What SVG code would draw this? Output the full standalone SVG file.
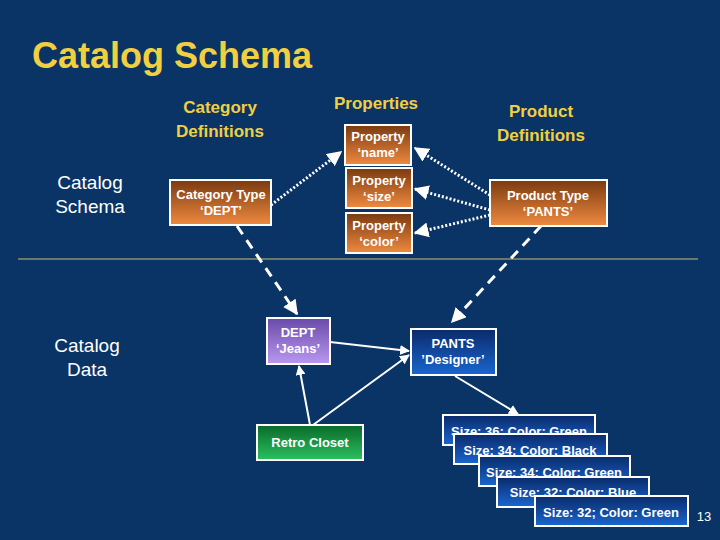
<svg xmlns="http://www.w3.org/2000/svg" width="720" height="540" viewBox="0 0 720 540">
<defs>
<linearGradient id="og" x1="0" y1="0" x2="0" y2="1"><stop offset="0" stop-color="#7a3a10"/><stop offset="1" stop-color="#f08a40"/></linearGradient>
<linearGradient id="pg" x1="0" y1="0" x2="0" y2="1"><stop offset="0" stop-color="#6a4aa8"/><stop offset="1" stop-color="#b898f0"/></linearGradient>
<linearGradient id="bg" x1="0" y1="0" x2="0" y2="1"><stop offset="0" stop-color="#0a2a6a"/><stop offset="1" stop-color="#1a66d0"/></linearGradient>
<linearGradient id="gg" x1="0" y1="0" x2="0" y2="1"><stop offset="0" stop-color="#0a6a2a"/><stop offset="1" stop-color="#2ac060"/></linearGradient>
<marker id="ah" viewBox="0 0 10 10" refX="9" refY="5" markerWidth="5" markerHeight="5" orient="auto"><path d="M0,0L10,5L0,10z" fill="#fff"/></marker>
<style>
.t{font-family:"Liberation Sans",Arial,sans-serif;font-weight:bold;fill:#fff;font-size:13px;text-anchor:middle}
.h{font-family:"Liberation Sans",Arial,sans-serif;font-weight:bold;fill:#f0d040;font-size:17px;text-anchor:middle}
.s{font-family:"Liberation Sans",Arial,sans-serif;fill:#fff;font-size:19px;text-anchor:middle}
.b{stroke:#fff;stroke-width:2}
.dot{stroke:#fff;stroke-width:3;stroke-dasharray:2 2;fill:none}
.dash{stroke:#fff;stroke-width:3;stroke-dasharray:10 7;fill:none}
.sol{stroke:#fff;stroke-width:2;fill:none}
</style>
</defs>
<rect width="720" height="540" fill="#0a3366"/>
<text x="32" y="68" font-family="Liberation Sans,Arial,sans-serif" font-weight="bold" font-size="36" fill="#f0d040">Catalog Schema</text>
<text class="h" x="220" y="113">Category</text><text class="h" x="220" y="137">Definitions</text>
<text class="h" x="376" y="109">Properties</text>
<text class="h" x="541" y="117">Product</text><text class="h" x="541" y="141">Definitions</text>
<text class="s" x="90" y="189">Catalog</text><text class="s" x="90" y="213">Schema</text>
<text class="s" x="87" y="352">Catalog</text><text class="s" x="87" y="376">Data</text>
<line x1="18" y1="259" x2="698" y2="259" stroke="#c8c070" stroke-width="1"/>
<g id="connectors">
<path class="dot" d="M271,205L341,152" marker-end="url(#ah)"/>
<path class="dot" d="M490,195L415,148" marker-end="url(#ah)"/>
<path class="dot" d="M490,210L415,189" marker-end="url(#ah)"/>
<path class="dot" d="M490,215L415,233" marker-end="url(#ah)"/>
<path class="dash" d="M237,226L297,314" marker-end="url(#ah)"/>
<path class="dash" d="M541,226L452,322" marker-end="url(#ah)"/>
<path class="sol" d="M330,342L409,351" marker-end="url(#ah)"/>
<path class="sol" d="M310,425L299,366" marker-end="url(#ah)"/>
<path class="sol" d="M313,425L409,355" marker-end="url(#ah)"/>
<path class="sol" d="M455,376L518,414" marker-end="url(#ah)"/>
</g>
<g id="p-name"><rect class="b" x="345" y="125" width="66" height="40" fill="url(#og)"/><text class="t" x="378" y="141">Property</text><text class="t" x="378" y="157">‘name’</text></g>
<g id="p-size"><rect class="b" x="346" y="168" width="66" height="40" fill="url(#og)"/><text class="t" x="379" y="185">Property</text><text class="t" x="379" y="201">‘size’</text></g>
<g id="p-color"><rect class="b" x="346" y="213" width="66" height="40" fill="url(#og)"/><text class="t" x="379" y="230">Property</text><text class="t" x="379" y="246">‘color’</text></g>
<g id="cat-type"><rect class="b" x="170" y="180" width="101" height="45" fill="url(#og)"/><text class="t" x="221" y="199">Category Type</text><text class="t" x="221" y="215">‘DEPT’</text></g>
<g id="prod-type"><rect class="b" x="490" y="180" width="117" height="46" fill="url(#og)"/><text class="t" x="548" y="200">Product Type</text><text class="t" x="548" y="216">‘PANTS’</text></g>
<g id="dept-jeans"><rect class="b" x="267" y="318" width="63" height="46" fill="url(#pg)"/><text class="t" x="298" y="337">DEPT</text><text class="t" x="298" y="353">‘Jeans’</text></g>
<g id="pants-designer"><rect class="b" x="411" y="329" width="85" height="46" fill="url(#bg)"/><text class="t" x="453" y="348">PANTS</text><text class="t" x="453" y="364">’Designer’</text></g>
<g id="retro"><rect class="b" x="257" y="425" width="106" height="35" fill="url(#gg)"/><text class="t" x="310" y="447">Retro Closet</text></g>
<g id="i1"><rect class="b" x="443" y="415" width="152" height="30" fill="url(#bg)"/><text class="t" x="519" y="436">Size: 36; Color: Green</text></g>
<g id="i2"><rect class="b" x="454" y="434" width="153" height="30" fill="url(#bg)"/><text class="t" x="530" y="455">Size: 34; Color: Black</text></g>
<g id="i3"><rect class="b" x="479" y="456" width="151" height="30" fill="url(#bg)"/><text class="t" x="554" y="477">Size: 34; Color: Green</text></g>
<g id="i4"><rect class="b" x="497" y="477" width="152" height="30" fill="url(#bg)"/><text class="t" x="573" y="497">Size: 32; Color: Blue</text></g>
<g id="i5"><rect class="b" x="535" y="496" width="153" height="30" fill="url(#bg)"/><text class="t" x="611" y="517">Size: 32; Color: Green</text></g>
<text x="704" y="521" font-family="Liberation Sans,Arial,sans-serif" font-size="13" fill="#fff" text-anchor="middle">13</text>
</svg>
